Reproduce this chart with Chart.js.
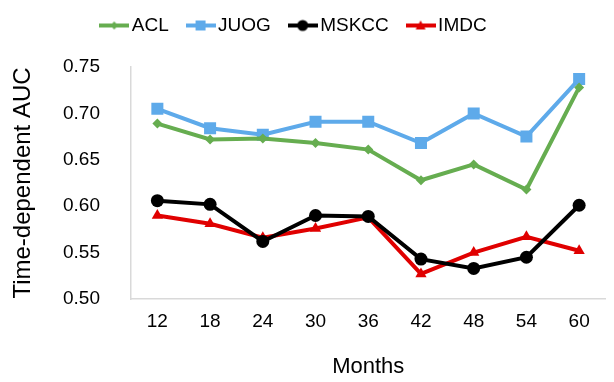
<!DOCTYPE html>
<html>
<head>
<meta charset="utf-8">
<script src="https://cdn.jsdelivr.net/npm/chart.js@4"></script>
<style>
  html, body { margin: 0; padding: 0; background: #fff; }
  #wrap { width: 614px; height: 382px; }
</style>
</head>
<body>
<div id="wrap"><canvas id="myChart"></canvas></div>
<script>
// data
const months = ['12', '18', '24', '30', '36', '42', '48', '54', '60'];
const acl   = [0.689, 0.672, 0.673, 0.668, 0.661, 0.628, 0.645, 0.618, 0.728];
const juog  = [0.705, 0.684, 0.677, 0.691, 0.691, 0.668, 0.700, 0.675, 0.737];
const mskcc = [0.606, 0.602, 0.562, 0.590, 0.589, 0.543, 0.533, 0.545, 0.601];
const imdc  = [0.590, 0.581, 0.566, 0.576, 0.588, 0.527, 0.550, 0.567, 0.552];
const seriesNames = ['ACL', 'JUOG', 'MSKCC', 'IMDC'];

const green = '#66ad50';
const blue = '#5eaaea';
const black = '#000000';
const red = '#e00000';

// legend symbol: short line with the marker in the middle
function legendIcon(color, style) {
    const c = document.createElement('canvas');
    c.width = 30; c.height = 14;
    const ctx = c.getContext('2d');
    ctx.strokeStyle = color;
    ctx.fillStyle = color;
    ctx.lineWidth = 4;
    ctx.beginPath();
    ctx.moveTo(0, 7); ctx.lineTo(30, 7);
    ctx.stroke();
    ctx.beginPath();
    if (style === 'square') ctx.rect(10, 2, 10, 10);
    else if (style === 'circle') ctx.arc(15, 7, 5.5, 0, Math.PI * 2);
    else if (style === 'diamond') { ctx.moveTo(15, 3); ctx.lineTo(19, 7); ctx.lineTo(15, 11); ctx.lineTo(11, 7); ctx.closePath(); }
    else { ctx.moveTo(15, 2); ctx.lineTo(20, 11); ctx.lineTo(10, 11); ctx.closePath(); }
    ctx.fill();
    return c;
}

function series(label, data, color, style, radius, icon) {
    return {
        label: label,
        data: data,
        borderColor: color,
        backgroundColor: color,
        borderWidth: 4,
        pointStyle: style,
        pointRadius: radius,
        pointHoverRadius: radius,
        pointBorderWidth: 0,
        pointBackgroundColor: color,
        tension: 0,
        legendIcon: icon
    };
}

const datasets = [
    series(seriesNames[0], acl, green, 'rectRot', 5, legendIcon(green, 'diamond')),
    series(seriesNames[1], juog, blue, 'rect', 8.5, legendIcon(blue, 'square')),
    series(seriesNames[2], mskcc, black, 'circle', 6.5, legendIcon(black, 'circle')),
    series(seriesNames[3], imdc, red, 'triangle', 6.5, legendIcon(red, 'triangle'))
];

const font = 'Arial, "Liberation Sans", sans-serif';

// extra room under the legend
const legendGap = {
    id: 'legendGap',
    beforeInit(chart) {
        const fit = chart.legend.fit;
        chart.legend.fit = function () {
            fit.call(this);
            this.height += 22;
        };
    }
};

new Chart(document.getElementById('myChart').getContext('2d'), {
    type: 'line',
    data: { labels: months, datasets: datasets },
    plugins: [legendGap],
    options: {
        responsive: true,
        maintainAspectRatio: false,
        animation: false,
        layout: { padding: { top: 8, right: 0, left: 0, bottom: 0 } },
        plugins: {
            tooltip: { enabled: false },
            legend: {
                position: 'top',
                labels: {
                    color: '#000',
                    font: { family: font, size: 19 },
                    usePointStyle: true,
                    pointStyleWidth: 16,
                    padding: 8,
                    generateLabels: function (chart) {
                        const n = chart.data.datasets.length;
                        return chart.data.datasets.map(function (ds, i) {
                            return {
                                text: ds.label + (i === n - 1 ? '    ' : '   '),
                                fillStyle: ds.borderColor,
                                strokeStyle: ds.borderColor,
                                lineWidth: 0,
                                pointStyle: ds.legendIcon,
                                fontColor: '#000',
                                datasetIndex: i
                            };
                        });
                    }
                }
            }
        },
        scales: {
            x: {
                offset: true,
                grid: { display: false, drawTicks: false },
                border: { display: true, color: '#d9d9d9', width: 1.5 },
                ticks: { color: '#000', font: { family: font, size: 19 }, padding: 11 },
                title: { display: true, text: 'Months', color: '#000', font: { family: font, size: 22 }, padding: { top: 0, bottom: 2 } },
                afterFit: function (scale) { scale.height = 83; }
            },
            y: {
                min: 0.5,
                max: 0.75,
                grid: { display: false, drawTicks: false },
                border: { display: true, color: '#d9d9d9', width: 1.5 },
                ticks: {
                    stepSize: 0.05,
                    color: '#000',
                    font: { family: font, size: 19 },
                    padding: 31,
                    callback: function (v) { return Number(v).toFixed(2); }
                },
                title: { display: true, text: 'Time-dependent AUC', color: '#000', font: { family: font, size: 24 }, padding: { top: 9, bottom: 0 } },
                afterFit: function (scale) { scale.width = 131; }
            }
        }
    }
});
</script>
</body>
</html>
